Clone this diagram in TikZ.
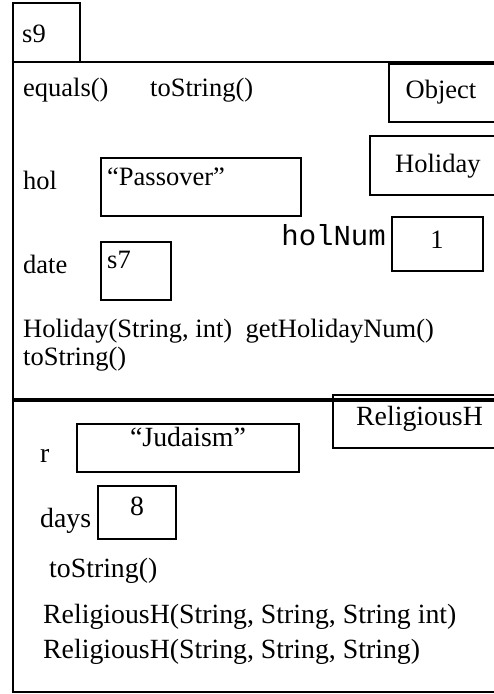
\documentclass[tikz,border=0pt]{standalone}
\usepackage{fontspec}
\setmainfont{Liberation Serif}
\newfontfamily\monofont{Liberation Mono}
\begin{document}
\begin{tikzpicture}[x=1pt,y=-1pt,
  box/.style={draw=black,line width=2pt},
  lbl/.style={anchor=base west,inner sep=0pt,font=\fontsize{26.5}{30}\selectfont},
  lblc/.style={anchor=base,inner sep=0pt,font=\fontsize{26.5}{30}\selectfont},
  lblb/.style={anchor=base west,inner sep=0pt,font=\fontsize{27.8}{30}\selectfont},
  lblbc/.style={anchor=base,inner sep=0pt,font=\fontsize{27.8}{30}\selectfont}]
\useasboundingbox (0,0) rectangle (494,694);
\clip (0,0) rectangle (494,694);
% outer frame
\coordinate (tl) at (13,62);
\coordinate (tr) at (500,62);
\coordinate (bl) at (13,692);
\coordinate (br) at (500,692);
\draw[line width=2pt] (tr) -- (tl) -- (bl) -- (br);
\draw[line width=3.5pt] (13,400) -- (500,400);
% s9 box
\draw[box] (13,3) rectangle (80,62);
\node[lbl] (s9) at (22,42) {s9};
% methods of Object
\node[lbl] (eq) at (23,96) {equals()};
\node[lbl] (ts1) at (150,96) {toString()};
\draw[box] (389,64) rectangle (500,122);
\node[lblc] (obj) at (441,98) {Object};
% Holiday
\draw[box] (370,136) rectangle (500,195);
\node[lbl] (hol) at (395,172) {Holiday};
\node[lbl] (holl) at (23,189) {hol};
\draw[box] (101,158) rectangle (301,216);
\node[lbl] (pass) at (107,185) {“Passover”};
\node[anchor=base east,inner sep=0pt,font=\monofont\fontsize{29}{30}\selectfont] (hn) at (386,245) {holNum};
\draw[box] (392,217) rectangle (483,271);
\node[lblc] (one) at (437,248) {1};
\node[lbl] (date) at (23,273) {date};
\draw[box] (101,242) rectangle (171,300);
\node[lbl] (s7) at (107,268) {s7};
\node[lbl] (hm1) at (23,337) {Holiday(String, int)\ \ getHolidayNum()};
\node[lbl] (ts2) at (23,365) {toString()};
% ReligiousH
\draw[box] (333,395) rectangle (500,448);
\node[lblb] (rh) at (356,425) {ReligiousH};
\node[lblb] (r) at (40,462) {r};
\draw[box] (77,424) rectangle (299,472);
\node[lblbc] (jud) at (188,446) {“Judaism”};
\node[lblb] (days) at (40,527) {days};
\draw[box] (98,486) rectangle (176,539);
\node[lblbc] (eight) at (137,515) {8};
\node[lblb] (ts3) at (49,577) {toString()};
\node[lblb] (rc1) at (43,623) {ReligiousH(String, String, String int)};
\node[lblb] (rc2) at (43,658) {ReligiousH(String, String, String)};
\end{tikzpicture}
\end{document}
